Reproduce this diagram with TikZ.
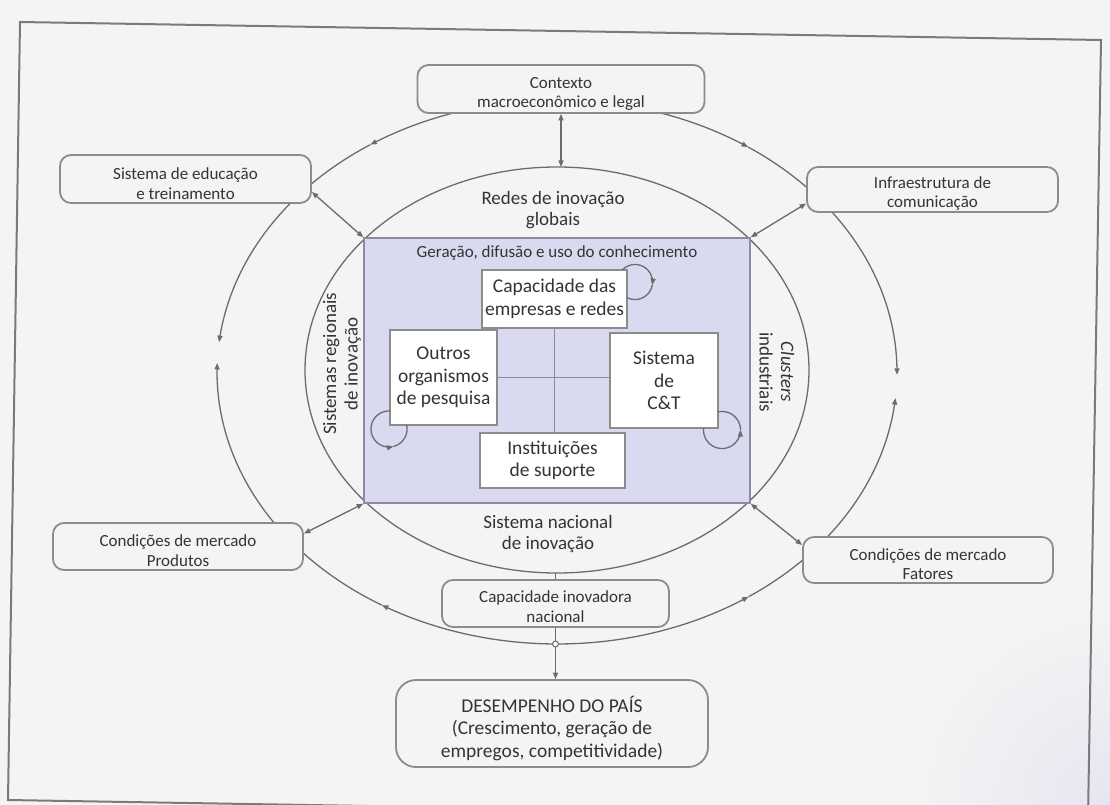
\documentclass[tikz,border=0pt]{standalone}
\usepackage{fontspec}
\setmainfont{Carlito}
\usetikzlibrary{arrows.meta,calc}
\definecolor{paper}{HTML}{F4F4F4}
\definecolor{ink}{HTML}{343434}
\definecolor{wire}{HTML}{6C6C6C}
\definecolor{rim}{HTML}{8C8C8C}
\definecolor{frame}{HTML}{7A7A7A}
\definecolor{lav}{HTML}{D9DAEF}
\definecolor{lavrim}{HTML}{8A8AA4}
% extra room above the first line, so the text sits a little low in its box
\newcommand\padtop[1]{\rule{0pt}{#1}}

\begin{document}
\begin{tikzpicture}[x=1pt,y=-1pt,
  wire/.style={draw=wire, line width=1.3pt},
  tip/.style={-{Triangle[length=6.5pt,width=5pt]}},
  twotip/.style={{Triangle[length=6.5pt,width=5pt]}-{Triangle[length=6.5pt,width=5pt]}},
  outbox/.style={draw=rim, line width=1.8pt, fill=paper, rounded corners=11pt,
    inner sep=0pt, align=center, text=ink, font=\fontsize{17}{19.5}\selectfont},
  inbox/.style={draw=rim, line width=1.5pt, fill=white, inner sep=0pt,
    align=center, text=ink, font=\fontsize{19.5}{22.5}\selectfont},
  lbl/.style={text=ink, align=center, font=\fontsize{19}{21.5}\selectfont},
]
\useasboundingbox (0,0) rectangle (1110,805);
\fill[paper] (0,0) rectangle (1110,805);

\begin{scope}
  \clip (0,0) rectangle (1110,805);
  \shade[inner color=lav!55!paper, outer color=paper] (1110,805) circle [radius=200];
  % page frame, slightly tilted
  \draw[frame, line width=2pt] (20,22) -- (1101,40) -- (1088,818) -- (8,800) -- cycle;
\end{scope}

% outer ring: arcs between the surrounding boxes
\draw[wire,tip] plot[domain=-90:-123.3,samples=30] ({557+340*cos(\x)},{372+272*sin(\x)});
\draw[wire]     plot[domain=-123.3:-140,samples=20] ({557+340*cos(\x)},{372+272*sin(\x)});
\draw[wire,tip] plot[domain=-90:-55.8,samples=30] ({557+340*cos(\x)},{372+272*sin(\x)});
\draw[wire]     plot[domain=-55.8:-40,samples=20] ({557+340*cos(\x)},{372+272*sin(\x)});
\draw[wire,tip] plot[domain=-140:-173.7,samples=30] ({557+340*cos(\x)},{372+272*sin(\x)});
\draw[wire,tip] plot[domain=140:181.9,samples=30] ({557+340*cos(\x)},{372+272*sin(\x)});
\draw[wire,tip] plot[domain=-40:0.6,samples=30] ({557+340*cos(\x)},{372+272*sin(\x)});
\draw[wire,tip] plot[domain=40:5.5,samples=30] ({557+340*cos(\x)},{372+272*sin(\x)});
\draw[wire,tip] plot[domain=90:121,samples=30] ({557+340*cos(\x)},{372+272*sin(\x)});
\draw[wire]     plot[domain=121:140,samples=20] ({557+340*cos(\x)},{372+272*sin(\x)});
\draw[wire,tip] plot[domain=90:55.7,samples=30] ({557+340*cos(\x)},{372+272*sin(\x)});
\draw[wire]     plot[domain=55.7:40,samples=20] ({557+340*cos(\x)},{372+272*sin(\x)});

% inner ring: the national innovation system
\draw[wire] (557,370) ellipse [x radius=252, y radius=203];
\coordinate (inTop) at (559,167);
\coordinate (inBot) at (555,573);

\node[lbl] (redes) at (553,210) {Redes de inovação\\globais};
\node[lbl] (snac) at (548,534) {Sistema nacional\\de inovação};
\node[lbl, rotate=90] (sreg) at (342,364) {Sistemas regionais\\de inovação};
\node[lbl, rotate=-90] (clus) at (777,372) {\textit{Clusters}\\industriais};

% knowledge core
\node[draw=lavrim, line width=1.5pt, fill=lav, minimum width=386pt, minimum height=265pt,
      inner sep=0pt] (core) at (557,370.5) {};
\node[text=ink, font=\fontsize{17}{20}\selectfont] (gdu) at (557,253)
  {Geração, difusão e uso do conhecimento};

\node[inbox, minimum width=145pt, minimum height=58pt] (emp) at (554.5,299)
  {Capacidade das\\empresas e redes};
\node[inbox, minimum width=107pt, minimum height=95pt] (out) at (443.5,377.5)
  {Outros\\organismos\\de pesquisa};
\node[inbox, minimum width=108pt, minimum height=95pt] (cet) at (664,380.5)
  {Sistema\\de\\C\&T};
\node[inbox, minimum width=145pt, minimum height=55pt] (ins) at (552.5,460.5)
  {Instituições\\de suporte};

\draw[draw=lavrim, line width=1.5pt] (emp.south) -- (emp.south |- ins.north);
\draw[draw=lavrim, line width=1.5pt] (out.east) -- (out.east -| cet.west);

% self-loops
\draw[wire,tip] plot[domain=-136.7:10,samples=40] ({635+17.5*cos(\x)},{282+17.5*sin(\x)});
\draw[wire]     plot[domain=10:117.2,samples=30] ({635+17.5*cos(\x)},{282+17.5*sin(\x)});
\draw[wire,tip] plot[domain=-86.8:-284,samples=50] ({389+18*cos(\x)},{429+18*sin(\x)});
\draw[wire]     plot[domain=-284:-372.8,samples=30] ({389+18*cos(\x)},{429+18*sin(\x)});
\draw[wire,tip] plot[domain=186.2:0,samples=50] ({722+18.5*cos(\x)},{430+18.5*sin(\x)});
\draw[wire]     plot[domain=0:-102.5,samples=30] ({722+18.5*cos(\x)},{430+18.5*sin(\x)});

% surrounding boxes
\node[outbox, minimum width=287pt, minimum height=48pt] (ctx) at (561,89)
  {\padtop{21pt}Contexto\\macroeconômico e legal};
\node[outbox, minimum width=251pt, minimum height=48pt] (edu) at (185.5,179)
  {\padtop{21pt}Sistema de educação\\e treinamento};
\node[outbox, minimum width=251pt, minimum height=45pt] (inf) at (932.5,189.5)
  {\padtop{20pt}Infraestrutura de\\comunicação};
\node[outbox, minimum width=250pt, minimum height=47pt] (pro) at (178,546.5)
  {\padtop{20pt}Condições de mercado\\Produtos};
\node[outbox, minimum width=250pt, minimum height=46pt] (fat) at (928,560)
  {\padtop{20pt}Condições de mercado\\Fatores};
\node[outbox, minimum width=227pt, minimum height=47pt] (cap) at (555.5,603.5)
  {\padtop{18pt}Capacidade inovadora\\nacional};
\node[outbox, rounded corners=20pt, minimum width=312pt, minimum height=87pt,
      font=\fontsize{19.5}{22.5}\selectfont] (des) at (552,723.5)
  {\padtop{26pt}DESEMPENHO DO PAÍS\\(Crescimento, geração de\\empregos, competitividade)};

% links to the core
\draw[wire,twotip] (ctx.south) -- (ctx.south |- inTop);
\draw[wire,twotip] ([yshift=-13pt]edu.east) -- (core.north west);
\draw[wire,twotip] ([yshift=-14pt]inf.west) -- (core.north east);
\draw[wire,twotip] ([yshift=13pt]pro.east) -- (core.south west);
\draw[wire,twotip] ([yshift=15pt]fat.west) -- (core.south east);
\draw[wire] (cap.north) -- (cap.north |- inBot);
\draw[wire,tip] (cap.south) -- (cap.south |- des.north);
\node[circle, draw=wire, line width=1pt, fill=paper, inner sep=0pt, minimum size=6pt]
  (ringmark) at (555.5,644) {};
\end{tikzpicture}
\end{document}
